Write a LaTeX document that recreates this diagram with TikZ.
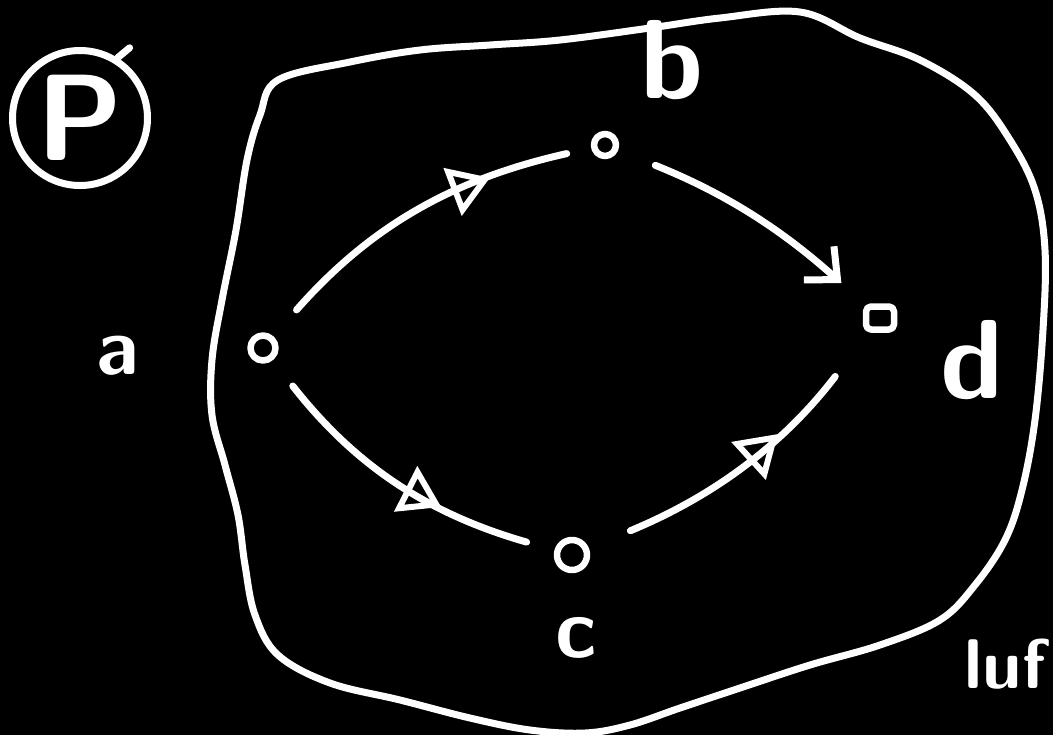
\documentclass[tikz,border=0pt]{standalone}
\usepackage{tikz}
\usetikzlibrary{arrows.meta,decorations.markings}

\begin{document}
\begin{tikzpicture}[x=0.2mm, y=-0.2mm, line cap=round, line join=round,
    chalk/.style={white, line width=1.4mm},
    vertex/.style={draw=white, line width=1.3mm, circle, inner sep=0pt, minimum size=#1},
    hand/.style={white, font=\sffamily\bfseries\fontsize{#1}{#1}\selectfont},
    midarrow/.style={postaction={decorate}, decoration={markings,
        mark=at position #1 with {\arrow{Triangle[open, length=8mm, width=10mm, line width=1.2mm]}}}}]

    % --- Board (black background, fixes the page size) ---
    \fill[black] (0,0) rectangle (1053,735);
    \useasboundingbox (0,0) rectangle (1053,735);

    % --- Circled P (top left) ---
    \node[draw=white, line width=1.4mm, circle, minimum size=27mm, inner sep=0pt,
        hand=70] (pMark) at (80,118) {P};
    \draw[chalk] (pMark.58) -- ++(12,-10);

    % --- Outer region (closed blob) ---
    \draw[chalk] plot[smooth cycle, tension=0.6] coordinates {
        (278,80) (350,62) (420,50) (490,45) (560,40) (650,28) (720,18)
        (800,12) (860,38) (920,60) (975,95) (1010,140) (1035,190)
        (1045,250) (1043,330) (1035,420) (1022,490) (1005,540)
        (975,585) (940,620) (880,645) (810,665) (740,688) (680,708)
        (630,725) (585,733) (530,730) (470,718) (400,700) (330,683)
        (278,655) (255,615) (245,565) (238,515) (225,465) (212,415)
        (212,360) (222,300) (236,230) (247,160) (260,115)};

    % --- Vertices ---
    \node[vertex=5mm] (vA) at (263,348) {};
    \node[vertex=4.4mm] (vB) at (605,145) {};
    \node[draw=white, line width=1.3mm, rounded corners=1mm, minimum width=5.6mm,
        minimum height=4.6mm, inner sep=0pt] (vD) at (880,318) {};
    \node[vertex=6mm] (vC) at (572,555) {};

    % --- Vertex labels ---
    \node[hand=46] (lA) at (118,356) {a};
    \node[hand=64] (lB) at (672,60) {b};
    \node[hand=64] (lD) at (972,360) {d};
    \node[hand=48] (lC) at (576,638) {c};
    \node[hand=40, anchor=base east, inner sep=0pt] (lLuf) at (1046,688) {luf};

    % --- Paths a -> b -> d and a -> c -> d ---
    \draw[chalk, midarrow=0.72, shorten <=7mm, shorten >=5mm]
        (vA) to[bend left=18] (vB);
    \draw[chalk, -{Straight Barb[length=5mm, width=9mm]}, shorten <=8mm, shorten >=6mm]
        (vB) to[bend left=10] (vD);
    \draw[chalk, midarrow=0.65, shorten <=6.5mm, shorten >=5.8mm]
        (vA) to[bend right=18] (vC);
    \draw[chalk, midarrow=0.62, shorten <=9mm, shorten >=11mm]
        (vC) to[bend right=15] (vD);

\end{tikzpicture}
\end{document}
